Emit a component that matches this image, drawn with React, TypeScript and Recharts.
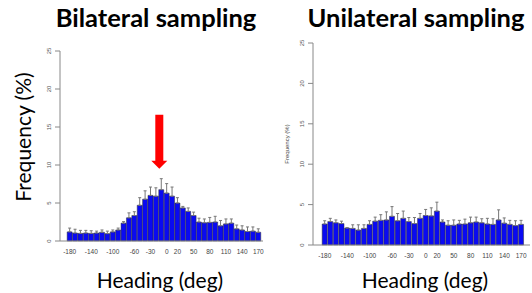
import React from 'react';
import {
  BarChart,
  Bar,
  XAxis,
  YAxis,
  ErrorBar,
  ReferenceDot,
  Label,
} from 'recharts';

const headings = [
  -180, -170, -160, -150, -140, -130, -120, -110, -100, -90, -80, -70,
  -60, -50, -40, -30, -20, -10, 0, 10, 20, 30, 40, 50,
  60, 70, 80, 90, 100, 110, 120, 130, 140, 150, 160, 170,
];

const shownTicks = [-180, -140, -100, -60, -30, 0, 20, 50, 80, 110, 140, 170];
const yTicks = [0, 5, 10, 15, 20, 25];

// bilateral sampling: mean frequency (%) and upper error
const bilateralFreq = [
  1.2, 1.05, 1.0, 1.05, 1.0, 1.05, 1.15, 0.97, 1.2, 1.45, 2.35, 3.05,
  3.35, 4.7, 5.5, 6.0, 5.9, 6.75, 6.3, 5.9, 5.0, 4.35, 3.9, 3.35,
  2.5, 2.4, 2.45, 2.5, 2.0, 2.25, 2.35, 1.6, 1.45, 1.25, 1.3, 1.15,
];
const bilateralTop = [
  1.7, 1.55, 1.4, 1.4, 1.35, 1.3, 1.45, 1.3, 1.45, 1.7, 2.55, 3.7,
  3.85, 5.7, 6.6, 7.1, 7.0, 8.2, 7.55, 7.1, 5.7, 4.55, 4.35, 3.8,
  3.0, 2.9, 3.1, 3.25, 2.7, 2.9, 2.9, 2.1, 2.0, 1.85, 1.85, 1.6,
];

// unilateral sampling
const unilateralFreq = [
  2.6, 2.9, 2.75, 2.65, 2.1, 2.05, 1.85, 2.05, 2.55, 2.95, 3.05, 3.1,
  3.55, 3.0, 3.3, 2.9, 2.65, 3.3, 3.65, 3.6, 4.2, 2.85, 2.45, 2.45,
  2.6, 2.6, 2.75, 2.85, 2.75, 2.6, 2.55, 3.1, 2.7, 2.55, 2.4, 2.55,
];
const unilateralTop = [
  3.0, 3.3, 3.1, 2.95, 2.15, 2.5, 2.5, 2.5, 3.0, 3.45, 3.75, 4.1,
  4.75, 3.9, 4.2, 3.4, 3.4, 3.9, 4.4, 4.6, 5.3, 3.1, 3.0, 3.1,
  3.05, 3.2, 3.45, 3.45, 3.25, 3.3, 3.25, 4.35, 3.35, 3.05, 3.0, 3.05,
];

const buildRows = (freq: number[], top: number[]) =>
  headings.map((h, i) => ({
    heading: h,
    freq: freq[i],
    err: [0, Math.max(0, top[i] - freq[i])],
  }));

const bilateralRows = buildRows(bilateralFreq, bilateralTop);
const unilateralRows = buildRows(unilateralFreq, unilateralTop);

const FONT = 'Lato, "Open Sans", sans-serif';

const XTick = (props: any) => {
  const { x, y, payload } = props;
  if (!shownTicks.includes(payload.value)) return null;
  return (
    <text x={x} y={y + 5} textAnchor="middle" fontSize={6.5} fill="#444" fontFamily="Arial, sans-serif">
      {payload.value}
    </text>
  );
};

const YTick = (props: any) => {
  const { x, y, payload } = props;
  return (
    <text
      x={x - 2}
      y={y}
      transform={`rotate(-90 ${x - 2} ${y})`}
      textAnchor="middle"
      fontSize={6}
      fill="#555"
      fontFamily="Arial, sans-serif"
    >
      {payload.value}
    </text>
  );
};

// big y label sits a bit above the plot centre, as in the slide
const BigYLabel = () => (
  <text
    x={31}
    y={137}
    transform="rotate(-90 31 137)"
    textAnchor="middle"
    fontSize={21}
    fill="#000"
    fontFamily={FONT}
  >
    Frequency (%)
  </text>
);

const Arrow = (props: any) => {
  const { cx, cy } = props;
  const x = cx - 2;
  return (
    <polygon
      points={`${x - 4},${cy - 54} ${x + 4},${cy - 54} ${x + 4},${cy - 8} ${x + 8},${cy - 8} ${x},${cy} ${x - 8},${cy - 8} ${x - 4},${cy - 8}`}
      fill="#ff0000"
    />
  );
};

const Panel = ({
  rows,
  width,
  height,
  margin,
  yWidth,
  pad,
  bigLabel,
  arrow,
}: {
  rows: any[];
  width: number;
  height: number;
  margin: { top: number; right: number; bottom: number; left: number };
  yWidth: number;
  pad: { left: number; right: number };
  bigLabel: boolean;
  arrow?: boolean;
}) => (
  <BarChart width={width} height={height} data={rows} margin={margin} barCategoryGap="3%">
    <XAxis
      dataKey="heading"
      interval={0}
      tick={<XTick />}
      tickLine={false}
      axisLine={{ stroke: '#888' }}
      padding={pad}
      height={height - margin.top - margin.bottom - (bigLabel ? 190 : 202)}
    />
    <YAxis
      domain={[0, 25]}
      ticks={yTicks}
      interval={0}
      width={yWidth}
      tick={<YTick />}
      tickSize={5}
      tickLine={{ stroke: '#888' }}
      axisLine={{ stroke: '#888' }}
    >
      {bigLabel ? (
        <Label content={<BigYLabel />} />
      ) : (
        <Label
          value="Frequency (%)"
          angle={-90}
          position="insideLeft"
          offset={4}
          style={{ fontSize: 6, fill: '#444', fontFamily: 'Arial, sans-serif', textAnchor: 'middle' }}
        />
      )}
    </YAxis>
    <Bar dataKey="freq" fill="#0a0af2" stroke="#333" strokeWidth={0.5} isAnimationActive={false}>
      <ErrorBar dataKey="err" width={1.5} stroke="#777" strokeWidth={1} direction="y" />
    </Bar>
    {arrow && <ReferenceDot x={-10} y={9.5} r={0} shape={<Arrow />} ifOverflow="visible" />}
  </BarChart>
);

const titleStyle: React.CSSProperties = {
  position: 'absolute',
  top: 2,
  fontFamily: FONT,
  fontWeight: 700,
  fontSize: 25.5,
  whiteSpace: 'nowrap',
  transform: 'translateX(-50%)',
  color: '#000',
};

const xLabelStyle: React.CSSProperties = {
  position: 'absolute',
  top: 267,
  fontFamily: FONT,
  fontSize: 21,
  whiteSpace: 'nowrap',
  transform: 'translateX(-50%)',
  color: '#000',
};

export default function App() {
  return (
    <div style={{ position: 'absolute', left: 0, top: 0, width: 532, height: 293, background: '#fff', overflow: 'hidden' }}>
      <div style={{ position: 'absolute', left: 0, top: 0 }}>
        <Panel
          rows={bilateralRows}
          width={270}
          height={293}
          margin={{ top: 51, right: 7, bottom: 0, left: 30 }}
          yWidth={30}
          pad={{ left: 7, right: 2 }}
          bigLabel
          arrow
        />
      </div>
      <div style={{ position: 'absolute', left: 270, top: 0 }}>
        <Panel
          rows={unilateralRows}
          width={262}
          height={293}
          margin={{ top: 43, right: 2, bottom: 0, left: 13 }}
          yWidth={30}
          pad={{ left: 9, right: 6 }}
          bigLabel={false}
        />
      </div>
      <div style={{ ...titleStyle, left: 156 }}>Bilateral sampling</div>
      <div style={{ ...titleStyle, left: 416 }}>Unilateral sampling</div>
      <div style={{ ...xLabelStyle, left: 160 }}>Heading (deg)</div>
      <div style={{ ...xLabelStyle, left: 425 }}>Heading (deg)</div>
    </div>
  );
}
